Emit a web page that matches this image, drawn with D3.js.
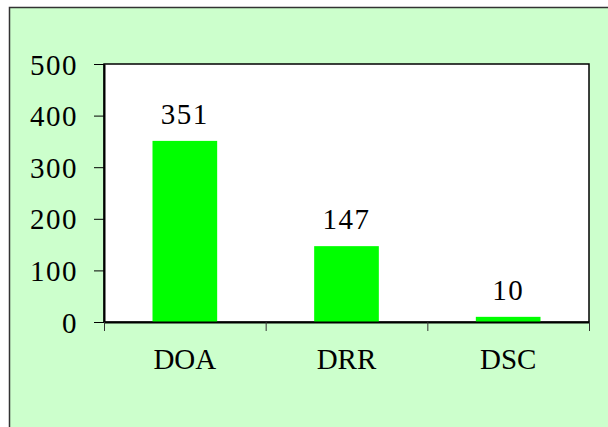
<!DOCTYPE html>
<meta charset="utf-8">
<head>
  <script src="https://d3js.org/d3.v7.min.js"></script>
  <style>
    body { margin: 0; background: #fff; }
    text { font-family: "Liberation Serif", "Times New Roman", serif; fill: #000; }
  </style>
</head>
<body>
<svg width="608" height="427"></svg>
<script>
  // chart data
  var categories = ["DOA", "DRR", "DSC"];
  var counts = [351, 147, 10];
  var yTicks = [0, 100, 200, 300, 400, 500];

  var svg = d3.select("svg");

  // outer chart area (clipped on the right and bottom)
  svg.append("rect")
    .attr("x", 9.5).attr("y", 7.5)
    .attr("width", 640).attr("height", 460)
    .attr("fill", "#ccffcc")
    .attr("stroke", "#333")
    .attr("stroke-width", 1.5);

  var plot = {left: 104, top: 64, right: 589, bottom: 322};

  var x = d3.scaleBand().domain(categories)
    .range([plot.left, plot.right])
    .paddingInner(0.6).paddingOuter(0.3);
  var xb = d3.scaleLinear().domain([0, categories.length]).range([plot.left, plot.right]);
  var y = d3.scaleLinear().domain([0, 500]).range([plot.bottom, plot.top]);

  // plot area
  svg.append("rect")
    .attr("x", plot.left).attr("y", plot.top)
    .attr("width", plot.right - plot.left).attr("height", plot.bottom - plot.top)
    .attr("fill", "#fff")
    .attr("stroke", "#000")
    .attr("stroke-width", 1.5);

  // bars
  svg.selectAll(".bar")
    .data(counts)
    .enter().append("rect")
    .attr("class", "bar")
    .attr("x", function(d, i) { return x(categories[i]); })
    .attr("width", x.bandwidth())
    .attr("y", function(d) { return y(d); })
    .attr("height", function(d) { return y(0) - y(d); })
    .attr("fill", "#00ff00");

  // value labels
  svg.selectAll(".val")
    .data(counts)
    .enter().append("text")
    .attr("class", "val")
    .attr("x", function(d, i) { return x(categories[i]) + x.bandwidth() / 2; })
    .attr("y", function(d) { return y(d) - 17; })
    .attr("text-anchor", "middle")
    .style("font-size", "29px")
    .style("letter-spacing", "1.5px")
    .text(function(d) { return d; });

  // y axis
  var yAxis = svg.append("g")
    .attr("transform", "translate(" + plot.left + ",0)")
    .call(d3.axisLeft(y).tickValues(yTicks).tickSize(10).tickPadding(16).tickSizeOuter(0));
  yAxis.select(".domain").attr("stroke", "#000").attr("stroke-width", 2);
  yAxis.selectAll(".tick line").attr("stroke", "#000");
  yAxis.selectAll("text")
    .style("font-family", "'Liberation Serif', serif")
    .style("font-size", "29px")
    .style("letter-spacing", "1.5px")
    .attr("dy", "0.35em");

  // x axis: ticks at category boundaries
  var xAxis = svg.append("g")
    .attr("transform", "translate(0," + plot.bottom + ")")
    .call(d3.axisBottom(xb).tickValues(d3.range(categories.length + 1)).tickSize(9).tickSizeOuter(0).tickFormat(""));
  xAxis.select(".domain").attr("stroke", "#000").attr("stroke-width", 2);
  xAxis.selectAll(".tick line").attr("stroke", "#333");

  // category labels
  svg.selectAll(".cat")
    .data(categories)
    .enter().append("text")
    .attr("class", "cat")
    .attr("x", function(d) { return x(d) + x.bandwidth() / 2; })
    .attr("y", 369)
    .attr("text-anchor", "middle")
    .style("font-size", "29px")
    .text(function(d) { return d; });
</script>
</body>
